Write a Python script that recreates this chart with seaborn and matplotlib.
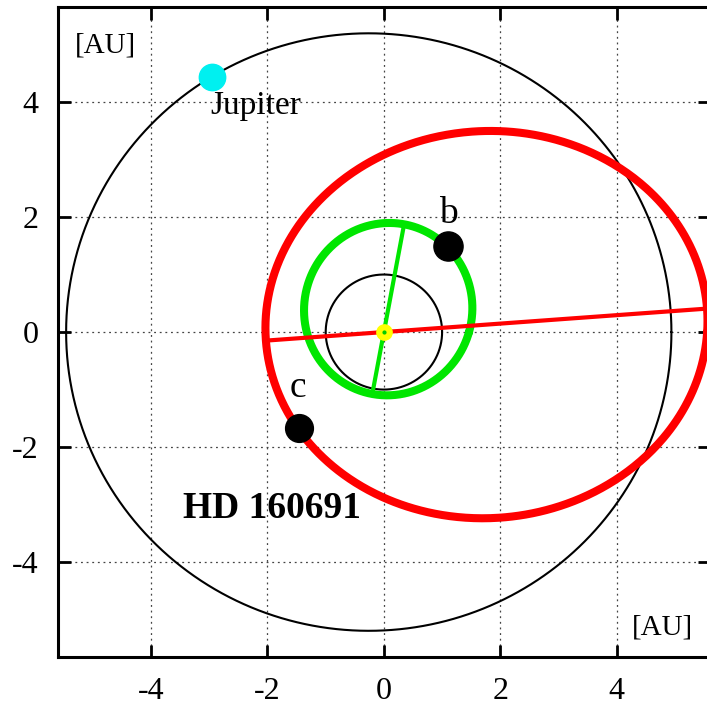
import numpy as np
import pandas as pd
import matplotlib
matplotlib.use("Agg")
import matplotlib.pyplot as plt
import seaborn as sns

# Orbital elements: semi-major axis [AU], eccentricity, periastron direction [deg]
orbit_names = ["Earth", "Jupiter", "b", "c"]
orbit_a = [1.0, 5.2, 1.50, 3.80]
orbit_e = [0.0, 0.05, 0.27, 0.465]
orbit_peri_deg = [0.0, 0.0, 259.5, 184.2]
orbit_colors = ["black", "black", "#00e600", "#ff0000"]
orbit_lw = [1.5, 1.5, 5.8, 5.8]
apse_line = [False, False, True, True]

# Planet positions [AU]
planet_names = ["Jupiter", "b", "c"]
planet_x = [-2.95, 1.10, -1.46]
planet_y = [4.43, 1.49, -1.66]
planet_colors = ["#00f0f0", "black", "black"]
planet_size = [19, 21, 20]

ticks = [-4, -2, 0, 2, 4]
tick_labels = ["-4", "-2", "0", "2", "4"]

sns.set_style("ticks")
plt.rcParams["font.family"] = ["Liberation Serif", "DejaVu Serif"]
plt.rcParams["text.color"] = "black"
plt.rcParams["axes.labelcolor"] = "black"
plt.rcParams["xtick.color"] = "black"
plt.rcParams["ytick.color"] = "black"

fig = plt.figure(figsize=(7.07, 7.05), dpi=100)
ax = fig.add_axes([0.082, 0.068, 0.922, 0.922])

theta = np.linspace(0, 2 * np.pi, 721)
for name, a, e, w, col, lw, apse in zip(orbit_names, orbit_a, orbit_e, orbit_peri_deg,
                                        orbit_colors, orbit_lw, apse_line):
    wr = np.deg2rad(w)
    r = a * (1 - e ** 2) / (1 + e * np.cos(theta - wr))
    df = pd.DataFrame({"x": r * np.cos(theta), "y": r * np.sin(theta)})
    sns.lineplot(data=df, x="x", y="y", sort=False, estimator=None, ax=ax,
                 color=col, lw=lw, zorder=3)
    if apse:
        q = a * (1 - e)
        Q = a * (1 + e)
        dl = pd.DataFrame({"x": [q * np.cos(wr), -Q * np.cos(wr)],
                           "y": [q * np.sin(wr), -Q * np.sin(wr)]})
        sns.lineplot(data=dl, x="x", y="y", sort=False, estimator=None, ax=ax,
                     color=col, lw=3, zorder=3)

# Star
ax.plot([0], [0], "o", ms=11, color="#ffff00", zorder=5)
ax.plot([0], [0], "o", ms=2, color="#00cc00", zorder=6)

for i in range(len(planet_names)):
    ax.plot([planet_x[i]], [planet_y[i]], "o", ms=planet_size[i],
            color=planet_colors[i], zorder=7)

ax.text(1.10, 2.05, "b", fontsize=27, ha="center", va="center", zorder=8)
ax.text(-1.48, -0.96, "c", fontsize=27, ha="center", va="center", zorder=8)
ax.text(-2.21, 3.93, "Jupiter", fontsize=24, ha="center", va="center", zorder=8)
ax.text(-1.93, -3.06, "HD 160691", fontsize=27, fontweight="bold", ha="center",
        va="center", zorder=8)
ax.text(-4.79, 4.99, "[AU]", fontsize=21, ha="center", va="center", zorder=8)
ax.text(4.78, -5.13, "[AU]", fontsize=21, ha="center", va="center", zorder=8)

ax.set_xlim(-5.6, 5.6)
ax.set_ylim(-5.65, 5.65)
ax.set_xticks(ticks)
ax.set_xticklabels(tick_labels)
ax.set_yticks(ticks)
ax.set_yticklabels(tick_labels)
ax.set_xlabel("")
ax.set_ylabel("")
ax.grid(True, color="#444444", linestyle=(0, (1.5, 3)), linewidth=0.9, zorder=0)
ax.set_axisbelow(True)
ax.tick_params(direction="in", length=9, width=2, labelsize=23, pad=14,
               top=True, right=True, colors="black")
for s in ax.spines.values():
    s.set_linewidth(2.2)
    s.set_color("black")

fig.savefig("out.png", dpi=100)
